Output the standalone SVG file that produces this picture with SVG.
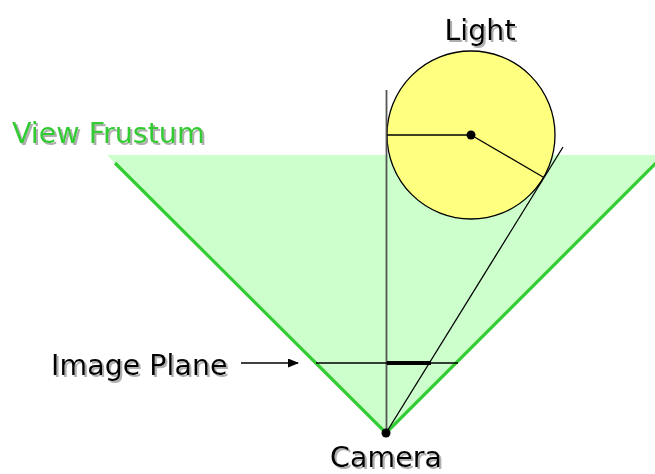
<svg xmlns="http://www.w3.org/2000/svg" width="655" height="474" viewBox="0 0 655 474">
  <defs>
    <filter id="sh" x="-10%" y="-10%" width="120%" height="130%">
      <feDropShadow dx="2" dy="2" stdDeviation="0.6" flood-color="#a0a0a0" flood-opacity="0.85"/>
    </filter>
    <marker id="arr" markerWidth="11" markerHeight="9" refX="10" refY="4.5" orient="auto" markerUnits="userSpaceOnUse">
      <path d="M0,0 L11,4.5 L0,9 Z" fill="#000"/>
    </marker>
  </defs>
  <style>
    .lbl { font-family: "DejaVu Sans", Verdana, sans-serif; font-size: 28.5px; fill: #000; filter: url(#sh); }
    .green { fill: #33cc33; }
    .thin { stroke: #000; stroke-width: 1.3; fill: none; }
  </style>
  <g id="frustum">
    <polygon points="107,155 664,155 386,433" fill="#ccffcc"/>
    <path d="M115,163 L386,433 L664,155" fill="none" stroke="#33cc33" stroke-width="3.2"/>
    <text class="lbl green" x="12" y="143">View Frustum</text>
  </g>
  <g id="light">
    <circle cx="471" cy="135" r="84" fill="#ffff80" stroke="#000" stroke-width="1.3"/>
    <circle cx="471" cy="135" r="4.5" fill="#000"/>
    <text class="lbl" x="480" y="40" text-anchor="middle">Light</text>
  </g>
  <g id="connectors">
    <line x1="386.5" y1="90" x2="386.5" y2="433" stroke="#555" stroke-width="1.8"/>
    <line class="thin" x1="387" y1="135" x2="471" y2="135"/>
    <line class="thin" x1="471" y1="135" x2="543" y2="177"/>
    <line class="thin" x1="386" y1="433" x2="563" y2="147"/>
    <line class="thin" x1="316" y1="363" x2="458" y2="363"/>
    <line x1="387" y1="363" x2="431" y2="363" stroke="#000" stroke-width="4"/>
    <line class="thin" x1="241" y1="363" x2="298" y2="363" marker-end="url(#arr)"/>
  </g>
  <g id="image-plane">
    <text class="lbl" x="51" y="375">Image Plane</text>
  </g>
  <g id="camera">
    <circle cx="386" cy="433" r="4.5" fill="#000"/>
    <text class="lbl" x="386" y="467" text-anchor="middle">Camera</text>
  </g>
</svg>
